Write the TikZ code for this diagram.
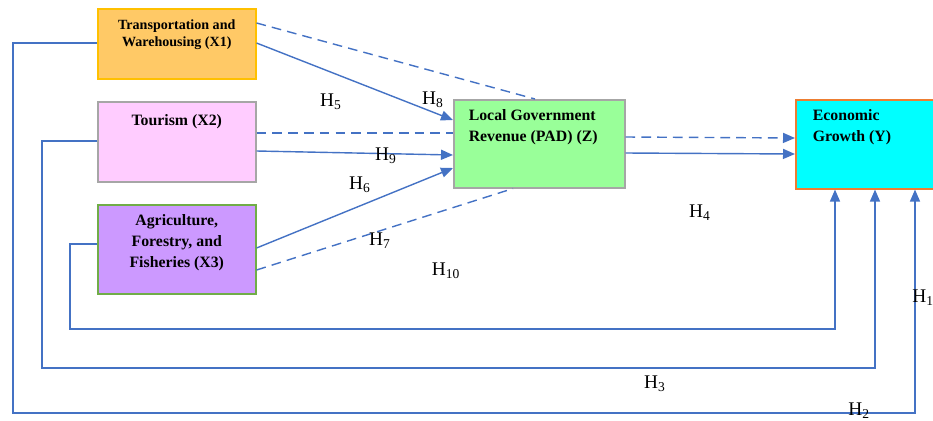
\documentclass[tikz,border=0pt]{standalone}
\usepackage{fontspec}
\setmainfont{Liberation Serif}
\usetikzlibrary{arrows.meta,calc}

\definecolor{linkblue}{HTML}{4472C4}
\definecolor{xonefill}{HTML}{FFC966}
\definecolor{xoneline}{HTML}{FFC000}
\definecolor{xtwofill}{HTML}{FFCCFF}
\definecolor{xthreefill}{HTML}{CC99FF}
\definecolor{xthreeline}{HTML}{70AD47}
\definecolor{zfill}{HTML}{99FF99}
\definecolor{yfill}{HTML}{00FFFF}
\definecolor{greyline}{HTML}{A6A6A6}
\definecolor{yline}{HTML}{ED7D31}

\begin{document}
\begin{tikzpicture}[x=0.02cm,y=-0.02cm]
    \tikzstyle{every node}+=[inner sep=0pt]
    \tikzstyle{box}=[draw, line width=0.9pt, anchor=north west, font=\bfseries\fontsize{9}{12}\selectfont]
    \tikzstyle{link}=[draw=linkblue, line width=0.8pt]
    \tikzstyle{dashlink}=[draw=linkblue, line width=0.8pt, dash pattern=on 5.5pt off 3.5pt]
    \tikzstyle{tip}=[-{Triangle[length=2.4mm,width=2mm]}]
    \tikzstyle{hyp}=[font=\fontsize{11}{13}\selectfont]
    \useasboundingbox (0,0) rectangle (933,420);
    \clip (0,0) rectangle (933,420);
    % boxes
    \node [box, draw=xoneline, fill=xonefill, font=\bfseries\fontsize{8}{9.6}\selectfont] (x1) at (97,8)
        {\parbox[t][1.4cm][t]{3.16cm}{\centering\vspace*{0.22cm}Transportation and\\Warehousing (X1)}};
    \node [box, draw=greyline, fill=xtwofill] (x2) at (97,101)
        {\parbox[t][1.6cm][t]{3.16cm}{\centering\vspace*{0.26cm}Tourism (X2)}};
    \node [box, draw=xthreeline, fill=xthreefill] (x3) at (97,204)
        {\parbox[t][1.78cm][t]{3.16cm}{\centering\vspace*{0.2cm}Agriculture,\\Forestry, and\\Fisheries (X3)}};
    \node [box, draw=greyline, fill=zfill, inner xsep=0.3cm] (z) at (453,99)
        {\parbox[t][1.76cm][t]{2.82cm}{\raggedright\vspace*{0.2cm}Local Government\\Revenue (PAD) (Z)}};
    \node [box, draw=yline, fill=yfill, inner xsep=0.34cm] (y) at (795,99)
        {\parbox[t][1.78cm][t]{2.52cm}{\raggedright\vspace*{0.2cm}Economic\\Growth (Y)}};
    % paths to Z and Y
    \draw [dashlink] ($(x1.north east)+(0,15)$) -- ($(z.north west)+(82,0)$);
    \draw [link, tip] ($(x1.north east)+(0,35)$) -- ($(z.north west)+(0,21)$);
    \draw [dashlink] ($(x2.north east)+(0,32)$) -- ($(z.north west)+(0,34)$);
    \draw [link, tip] ($(x2.north east)+(0,50)$) -- ($(z.north west)+(0,56)$);
    \draw [link, tip] ($(x3.north east)+(0,44)$) -- ($(z.north west)+(0,69)$);
    \draw [dashlink] ($(x3.north east)+(0,66)$) -- ($(z.south west)+(60,0)$);
    \draw [dashlink, tip] ($(z.north east)+(0,38)$) -- ($(y.north west)+(0,39)$);
    \draw [link, tip] ($(z.north east)+(0,54)$) -- ($(y.north west)+(0,55)$);
    % direct paths to Y
    \draw [link, tip] ($(x3.north west)+(0,40)$) -- ++(-27,0) -- ++(0,85) -| ($(y.south west)+(40,0)$);
    \draw [link, tip] ($(x2.north west)+(0,40)$) -- ++(-55,0) -- ++(0,227) -| ($(y.south west)+(80,0)$);
    \draw [link, tip] ($(x1.north west)+(0,35)$) -- ++(-84,0) -- ++(0,370) -| ($(y.south west)+(120,0)$);
    % hypotheses
    \node [hyp] (h5) at (331,102) {H\textsubscript{5}};
    \node [hyp] (h8) at (433,100) {H\textsubscript{8}};
    \node [hyp] (h9) at (386,156) {H\textsubscript{9}};
    \node [hyp] (h6) at (360,185) {H\textsubscript{6}};
    \node [hyp] (h7) at (380,241) {H\textsubscript{7}};
    \node [hyp] (h10) at (446,271) {H\textsubscript{10}};
    \node [hyp] (h4) at (700,213) {H\textsubscript{4}};
    \node [hyp] (h3) at (655,384) {H\textsubscript{3}};
    \node [hyp, anchor=south west] (h2) at (848,419) {H\textsubscript{2}};
    \node [hyp, anchor=west] (h1) at (912,298) {H\textsubscript{1}};
\end{tikzpicture}
\end{document}
